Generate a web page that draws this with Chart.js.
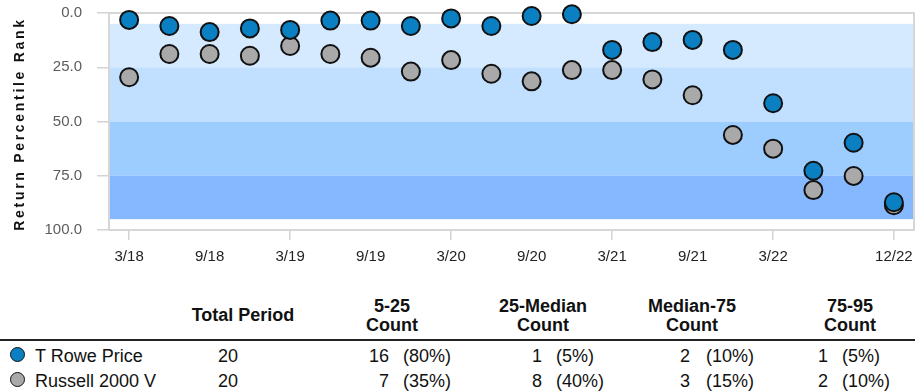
<!DOCTYPE html>
<html>
<head>
<meta charset="utf-8">
<script src="https://cdn.jsdelivr.net/npm/chart.js@4.4.0/dist/chart.umd.min.js"></script>
<style>
    body { margin: 0; background: #fff; font-family: 'Liberation Sans', Arial, sans-serif; }
    #wrap { position: relative; width: 915px; height: 391px; overflow: hidden; }
    #rankChart { position: absolute; left: 0; top: 0; }
    .ytitle { position: absolute; left: 19px; top: 124px; transform: translate(-50%, -50%) rotate(-90deg); font-size: 14px; font-weight: bold; letter-spacing: 2.7px; white-space: nowrap; color: #111; }
    .t { position: absolute; font-size: 18px; line-height: 20px; white-space: nowrap; color: #111; }
    .hd { font-weight: bold; text-align: center; line-height: 19px; transform: translateX(-50%); }
    .rule { position: absolute; left: 0; top: 339px; width: 915px; height: 2px; background: #222; }
    .dot { position: absolute; width: 13px; height: 13px; border: 1.5px solid #111; border-radius: 50%; }
</style>
</head>
<body>
<div id="wrap">
    <canvas id="rankChart" width="915" height="270"></canvas>
    <div class="ytitle">Return Percentile Rank</div>
    <div class="rule"></div>
</div>
<script>
// Datos del grafico
const quarters = ['3/18', '6/18', '9/18', '12/18', '3/19', '6/19', '9/19', '12/19', '3/20', '6/20',
    '9/20', '12/20', '3/21', '6/21', '9/21', '12/21', '3/22', '6/22', '9/22', '12/22'];
const troweRank = [3.2, 6.0, 8.8, 7.1, 7.8, 3.5, 3.5, 6.0, 2.5, 6.0, 1.4, 0.6, 17.0, 13.4, 12.4, 17.0, 41.6, 72.7, 59.8, 87.2];
const russellRank = [29.6, 18.9, 18.9, 19.7, 15.2, 18.9, 20.6, 27.0, 21.7, 28.0, 31.5, 26.3, 26.3, 30.6, 37.9, 56.2, 62.5, 81.6, 75.1, 88.6];
const yTicks = [0, 25, 50, 75, 100];
const bandEdges = [5, 25, 50, 75, 95];
const bandColors = ['#d5e9ff', '#c1dfff', '#9dcdff', '#85b8ff'];

// Datos de la tabla
const seriesNames = ['T Rowe Price', 'Russell 2000 V'];
const seriesColors = ['#0a7fc2', '#a9a9a9'];
const totalPeriod = [20, 20];
const countHeads = ['5-25', '25-Median', 'Median-75', '75-95'];
const troweCounts = [16, 1, 2, 1];
const russellCounts = [7, 8, 3, 2];

// fondo por bandas y borde del area
const bandsPlugin = {
    id: 'bands',
    beforeDatasetsDraw(chart) {
        const { ctx, chartArea: a, scales: { y } } = chart;
        ctx.save();
        ctx.fillStyle = '#fff';
        ctx.fillRect(a.left, a.top, a.width, a.height);
        for (let i = 0; i < bandColors.length; i++) {
            const y0 = y.getPixelForValue(bandEdges[i]);
            const y1 = y.getPixelForValue(bandEdges[i + 1]);
            ctx.fillStyle = bandColors[i];
            ctx.fillRect(a.left, y0, a.width, y1 - y0);
        }
        ctx.strokeStyle = '#d6d6d6';
        ctx.lineWidth = 2;
        ctx.strokeRect(a.left, a.top, a.width, a.height);
        ctx.restore();
    }
};

Chart.defaults.font.family = "'Liberation Sans', Arial, sans-serif";

const rankChart = new Chart(document.getElementById('rankChart'), {
    type: 'line',
    data: {
        labels: quarters,
        datasets: [{
            label: seriesNames[0],
            data: troweRank,
            showLine: false,
            clip: false,
            pointRadius: 9,
            pointBackgroundColor: seriesColors[0],
            pointBorderColor: '#111',
            pointBorderWidth: 2
        }, {
            label: seriesNames[1],
            data: russellRank,
            showLine: false,
            clip: false,
            pointRadius: 9,
            pointBackgroundColor: seriesColors[1],
            pointBorderColor: '#111',
            pointBorderWidth: 2
        }]
    },
    options: {
        responsive: false,
        animation: false,
        events: [],
        layout: { autoPadding: false, padding: { top: 13, right: 1, bottom: 0, left: 0 } },
        plugins: {
            legend: { display: false },
            tooltip: { enabled: false }
        },
        scales: {
            x: {
                type: 'category',
                offset: true,
                afterFit: (scale) => {
                    scale.height = 40;
                    scale.paddingLeft = 0;
                    scale.paddingRight = 0;
                },
                border: { display: false },
                grid: {
                    offset: false,
                    drawOnChartArea: false,
                    tickLength: 10,
                    lineWidth: 1.5,
                    color: (c) => (c.index % 2 === 0 || c.index >= 18) ? '#d3d3d3' : 'rgba(0,0,0,0)'
                },
                ticks: {
                    autoSkip: false,
                    maxRotation: 0,
                    padding: 8,
                    color: '#222',
                    font: { size: 15 },
                    callback: function (value, index) {
                        // 9/22 lleva marca pero no etiqueta
                        if (index === quarters.length - 2) return '';
                        if (index === quarters.length - 1 || index % 2 === 0) return quarters[index];
                        return null;
                    }
                }
            },
            y: {
                min: 0,
                max: 100,
                reverse: true,
                afterFit: (scale) => {
                    scale.width = 109;
                    scale.paddingTop = 0;
                    scale.paddingBottom = 0;
                },
                afterBuildTicks: (scale) => { scale.ticks = yTicks.map(v => ({ value: v })); },
                border: { display: false },
                grid: {
                    drawOnChartArea: false,
                    tickLength: 12,
                    lineWidth: 1.5,
                    color: '#d3d3d3'
                },
                ticks: {
                    padding: 15,
                    color: '#5c5c5c',
                    font: { size: 15 },
                    callback: (v) => Number(v).toFixed(1)
                }
            }
        }
    },
    plugins: [bandsPlugin]
});

// TABLA DE CONTEOS
const wrap = document.getElementById('wrap');
function addText(text, cls, style) {
    const el = document.createElement('div');
    el.className = cls;
    el.innerHTML = text;
    Object.assign(el.style, style);
    wrap.appendChild(el);
    return el;
}

addText('Total Period', 't hd', { left: '243px', top: '306px' });
const headCenters = [392, 543, 692, 850];
countHeads.forEach((h, i) => {
    addText(h + '<br>Count', 't hd', { left: headCenters[i] + 'px', top: '297px' });
});

const numRight = [389, 542, 690, 828];
const pctLeft = [403, 556, 706, 842];
[troweCounts, russellCounts].forEach((counts, r) => {
    const top = 346 + r * 25;
    const dot = document.createElement('div');
    dot.className = 'dot';
    dot.style.left = '10px';
    dot.style.top = (top + 1) + 'px';
    dot.style.background = seriesColors[r];
    wrap.appendChild(dot);
    addText(seriesNames[r], 't', { left: '35px', top: top + 'px' });
    addText(String(totalPeriod[r]), 't', { left: '228px', top: top + 'px', transform: 'translateX(-50%)' });
    counts.forEach((c, i) => {
        addText(String(c), 't', { right: (915 - numRight[i]) + 'px', top: top + 'px' });
        addText('(' + Math.round(c / totalPeriod[r] * 100) + '%)', 't', { left: pctLeft[i] + 'px', top: top + 'px' });
    });
});
</script>
</body>
</html>
